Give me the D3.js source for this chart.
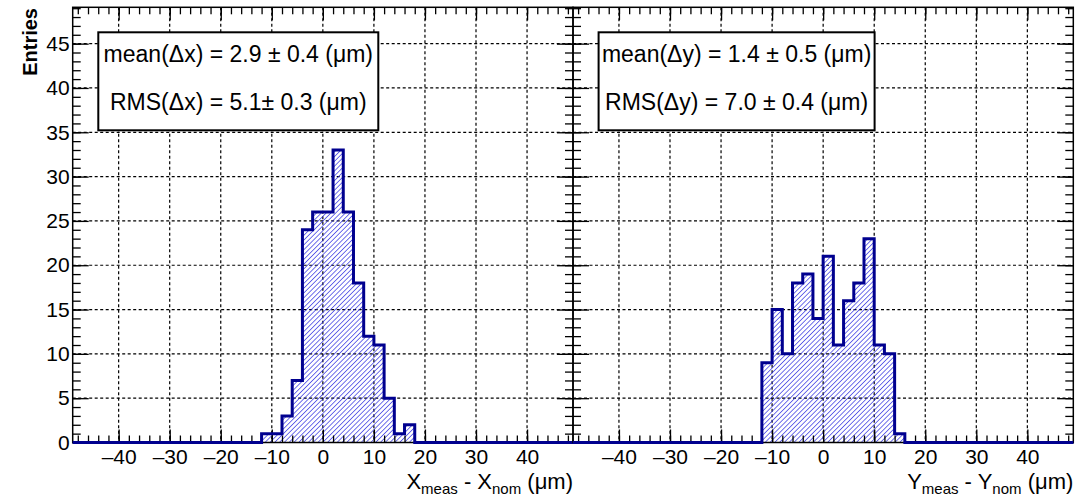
<!DOCTYPE html>
<html>
<head>
<meta charset="utf-8">
<script src="https://cdn.jsdelivr.net/npm/d3@7"></script>
<style>
    body { margin: 0; background: #fff; }
    svg { font-family: "Liberation Sans", Arial, sans-serif; }
</style>
</head>
<body>
<svg id="chart" width="1076" height="500"></svg>
<script>
// histogram data, bins of 2 um starting at -12 um
const binStart = -12;
const binWidth = 2;
const countsX = [1, 1, 3, 7, 24, 26, 26, 33, 26, 18, 12, 11, 5, 1, 2];
const countsY = [9, 15, 10, 18, 19, 14, 21, 11, 16, 18, 23, 11, 10, 1];

const xRange = [-49, 49];
const yRange = [0, 49.1];
const xMajorTicks = [-40, -30, -20, -10, 0, 10, 20, 30, 40];
const yMajorTicks = [0, 5, 10, 15, 20, 25, 30, 35, 40, 45];

const legendX = ["mean(\u0394x) = 2.9 \u00b1 0.4 (\u03bcm)", "RMS(\u0394x) = 5.1\u00b1 0.3 (\u03bcm)"];
const legendY = ["mean(\u0394y) = 1.4 \u00b1 0.5 (\u03bcm)", "RMS(\u0394y) = 7.0 \u00b1 0.4 (\u03bcm)"];

const svg = d3.select("#chart");

const plotTop = 7.3;
const plotBottom = 442.5;
const panelWidth = 500.3;

const y = d3.scaleLinear().domain(yRange).range([plotBottom, plotTop]);

// hatch pattern like ROOT fill style 3004
svg.append("defs")
    .append("pattern")
    .attr("id", "hatch")
    .attr("patternUnits", "userSpaceOnUse")
    .attr("width", 3.4)
    .attr("height", 3.4)
    .attr("patternTransform", "rotate(45)")
    .append("line")
    .attr("x1", 0).attr("y1", 0)
    .attr("x2", 0).attr("y2", 3.4)
    .attr("stroke", "#2424e0")
    .attr("stroke-width", 1.3)
;

function drawPanel(left, counts, legend, boxWidth, titleVar, showYLabels) {
    const x = d3.scaleLinear().domain(xRange).range([left, left + panelWidth]);
    const g = svg.append("g");

    const minorX = d3.range(-48, 49, 2);
    const minorY = d3.range(0, 50, 1);

    // grid
    g.selectAll(".gx")
        .data(xMajorTicks)
        .enter()
        .append("line")
        .attr("x1", d => x(d)).attr("x2", d => x(d))
        .attr("y1", plotTop).attr("y2", plotBottom)
        .attr("stroke", "#000")
        .attr("stroke-width", 1.2)
        .attr("stroke-dasharray", "3,2.5")
    ;
    g.selectAll(".gy")
        .data(yMajorTicks.slice(1))
        .enter()
        .append("line")
        .attr("x1", left).attr("x2", left + panelWidth)
        .attr("y1", d => y(d)).attr("y2", d => y(d))
        .attr("stroke", "#000")
        .attr("stroke-width", 1.2)
        .attr("stroke-dasharray", "3,2.5")
    ;

    // histogram points for step curve
    const pts = [[xRange[0], 0]];
    counts.forEach((c, i) => pts.push([binStart + i * binWidth, c]));
    pts.push([binStart + counts.length * binWidth, 0]);
    pts.push([xRange[1], 0]);

    const area = d3.area()
        .curve(d3.curveStepAfter)
        .x(d => x(d[0]))
        .y0(y(0))
        .y1(d => y(d[1]))
    ;
    const line = d3.line()
        .curve(d3.curveStepAfter)
        .x(d => x(d[0]))
        .y(d => y(d[1]))
    ;

    g.append("path")
        .attr("d", area(pts))
        .attr("fill", "url(#hatch)")
    ;

    // frame
    g.append("rect")
        .attr("x", left).attr("y", plotTop)
        .attr("width", panelWidth).attr("height", plotBottom - plotTop)
        .attr("fill", "none")
        .attr("stroke", "#000")
        .attr("stroke-width", 1.5)
    ;

    // axes ticks
    const axisB = d3.axisBottom(x).tickValues(xMajorTicks).tickSize(-13).tickPadding(6)
        .tickFormat(d => d < 0 ? "\u2013" + Math.abs(d) : d);
    const gb = g.append("g").attr("transform", `translate(0,${plotBottom})`).call(axisB);
    gb.select(".domain").remove();
    gb.selectAll("text").attr("font-size", 21).attr("fill", "#000").attr("dy", "0.72em");
    gb.selectAll("line").attr("stroke-width", 1.3);

    const gbm = g.append("g").attr("transform", `translate(0,${plotBottom})`)
        .call(d3.axisBottom(x).tickValues(minorX).tickSize(-7).tickFormat(""));
    gbm.select(".domain").remove();
    gbm.selectAll("line").attr("stroke-width", 1.3);

    const gt = g.append("g").attr("transform", `translate(0,${plotTop})`)
        .call(d3.axisTop(x).tickValues(xMajorTicks).tickSize(-13).tickFormat(""));
    const gtm = g.append("g").attr("transform", `translate(0,${plotTop})`)
        .call(d3.axisTop(x).tickValues(minorX).tickSize(-7).tickFormat(""));

    const gl = g.append("g").attr("transform", `translate(${left},0)`)
        .call(d3.axisLeft(y).tickValues(yMajorTicks).tickSize(-16).tickPadding(3)
            .tickFormat(showYLabels ? d => d : ""));
    gl.selectAll("text").attr("font-size", 21).attr("fill", "#000");
    const glm = g.append("g").attr("transform", `translate(${left},0)`)
        .call(d3.axisLeft(y).tickValues(minorY).tickSize(-8).tickFormat(""));

    const gr = g.append("g").attr("transform", `translate(${left + panelWidth},0)`)
        .call(d3.axisRight(y).tickValues(yMajorTicks).tickSize(-16).tickFormat(""));
    const grm = g.append("g").attr("transform", `translate(${left + panelWidth},0)`)
        .call(d3.axisRight(y).tickValues(minorY).tickSize(-8).tickFormat(""));

    [gt, gtm, gl, glm, gr, grm].forEach(a => {
        a.select(".domain").remove();
        a.selectAll("line").attr("stroke-width", 1.3);
    });

    // histogram outline
    g.append("path")
        .attr("d", line(pts))
        .attr("fill", "none")
        .attr("stroke", "#00008f")
        .attr("stroke-width", 3)
    ;

    // legend box
    const bx = left + 25.6;
    const by = 32.3;
    g.append("rect")
        .attr("x", bx).attr("y", by)
        .attr("width", boxWidth).attr("height", 98)
        .attr("fill", "#fff")
        .attr("stroke", "#000")
        .attr("stroke-width", 2)
    ;
    g.selectAll(".leg")
        .data(legend)
        .enter()
        .append("text")
        .attr("x", bx + boxWidth / 2)
        .attr("y", (d, i) => by + 30 + i * 48)
        .attr("text-anchor", "middle")
        .attr("font-size", 23)
        .text(d => d)
    ;

    // x axis title
    const t = g.append("text")
        .attr("x", left + panelWidth)
        .attr("y", 489)
        .attr("text-anchor", "end")
        .attr("font-size", 22)
    ;
    t.append("tspan").text(titleVar);
    t.append("tspan").attr("font-size", 15).attr("dy", 5).text("meas");
    t.append("tspan").attr("dy", -5).text(" - " + titleVar);
    t.append("tspan").attr("font-size", 15).attr("dy", 5).text("nom");
    t.append("tspan").attr("dy", -5).text(" (\u03bcm)");
}

drawPanel(72.7, countsX, legendX, 280, "X", true);
drawPanel(573, countsY, legendY, 276, "Y", false);

// y axis title
svg.append("text")
    .attr("transform", "translate(37,8) rotate(-90)")
    .attr("text-anchor", "end")
    .attr("font-size", 20)
    .attr("font-weight", "bold")
    .text("Entries")
;
</script>
</body>
</html>
